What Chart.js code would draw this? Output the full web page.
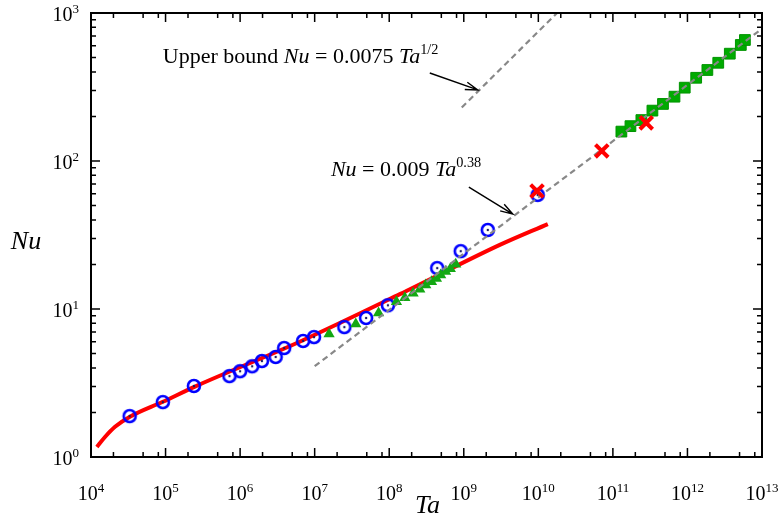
<!DOCTYPE html>
<html>
<head>
<meta charset="utf-8">
<script src="https://cdn.jsdelivr.net/npm/chart.js@4.4.0/dist/chart.umd.min.js"></script>
<style>
  body { margin: 0; background: #fff; }
  #contenedor { width: 778px; height: 521px; }
</style>
</head>
<body>
<div id="contenedor"><canvas id="grafica"></canvas></div>
<script>
// Datos (Ta, Nu)
const circulosTa = [3.3e4, 9.2e4, 2.4e5, 7.2e5, 1.0e6, 1.45e6, 1.96e6, 3.0e6, 3.9e6, 7.0e6, 9.8e6, 2.5e7, 4.9e7, 9.6e7, 4.4e8, 9.1e8, 2.1e9, 9.8e9];
const circulosNu = [1.89, 2.35, 3.02, 3.52, 3.8, 4.1, 4.45, 4.74, 5.45, 6.08, 6.46, 7.55, 8.7, 10.6, 18.9, 24.6, 34.2, 59];

const triangulosTa = [1.56e7, 3.56e7, 7.2e7, 1.25e8, 1.62e8, 2.09e8, 2.57e8, 3.09e8, 3.69e8, 4.3e8, 4.9e8, 5.7e8, 6.6e8, 7.8e8];
const triangulosNu = [6.78, 7.92, 9.4, 11.2, 11.9, 12.8, 13.6, 14.5, 15.3, 16.1, 17.0, 17.9, 18.7, 20.1];

const cuadradosTa = [1.30e11, 1.72e11, 2.41e11, 3.39e11, 4.7e11, 6.7e11, 9.2e11, 1.31e12, 1.85e12, 2.59e12, 3.7e12, 5.2e12, 5.9e12];
const cuadradosNu = [158, 172, 189, 219, 243, 272, 313, 365, 412, 461, 531, 608, 657];

const crucesTa = [9.6e9, 7.1e10, 2.8e11];
const crucesNu = [62.7, 117, 181];

const curvaTa = [1.2e4, 1.54e4, 2.1e4, 3.33e4, 9.2e4, 2.48e5, 6.3e6, 1.39e8, 3.04e9, 1.34e10];
const curvaNu = [1.17, 1.365, 1.6, 1.87, 2.36, 2.99, 6.01, 12.6, 27.1, 37.5];

// Ajuste Nu = 0.009 Ta^0.38 y cota superior Nu = 0.0075 Ta^1/2
const ajusteTa = [1e7, 1e13];
const ajusteNu = [4.11, 784];
const cotaTa = [9.4e8, 1.78e10];
const cotaNu = [230, 1000];

const exponentesX = [4, 5, 6, 7, 8, 9, 10, 11, 12, 13];
const exponentesY = [0, 1, 2, 3];

const puntos = (xs, ys) => xs.map((x, i) => ({ x: x, y: ys[i] }));

// Circulo azul con punto central
function marcaCirculo() {
  const c = document.createElement('canvas');
  c.width = 18; c.height = 18;
  const g = c.getContext('2d');
  g.strokeStyle = '#0000ff';
  g.lineWidth = 2.6;
  g.beginPath(); g.arc(9, 9, 6, 0, Math.PI * 2); g.stroke();
  g.fillStyle = '#1a1a66';
  g.beginPath(); g.arc(9, 9, 1.2, 0, Math.PI * 2); g.fill();
  return c;
}

const serif = '"Liberation Serif", "Times New Roman", serif';

// Texto con cursiva y superindice
function textoRico(ctx, partes, x, y, tam) {
  let px = x;
  partes.forEach(p => {
    const t = p.sup ? tam * 0.65 : tam;
    ctx.font = (p.it ? 'italic ' : '') + t + 'px ' + serif;
    ctx.fillText(p.t, px, p.sup ? y - tam * 0.42 : y);
    px += ctx.measureText(p.t).width;
  });
}

function anchoRico(ctx, partes, tam) {
  let w = 0;
  partes.forEach(p => {
    const t = p.sup ? tam * 0.65 : tam;
    ctx.font = (p.it ? 'italic ' : '') + t + 'px ' + serif;
    w += ctx.measureText(p.t).width;
  });
  return w;
}

function flecha(ctx, x1, y1, x2, y2) {
  const ang = Math.atan2(y2 - y1, x2 - x1);
  const L = 13;
  ctx.beginPath();
  ctx.moveTo(x1, y1); ctx.lineTo(x2, y2);
  ctx.moveTo(x2 - L * Math.cos(ang - 0.3), y2 - L * Math.sin(ang - 0.3));
  ctx.lineTo(x2, y2);
  ctx.lineTo(x2 - L * Math.cos(ang + 0.3), y2 - L * Math.sin(ang + 0.3));
  ctx.stroke();
}

const ejes = {
  id: 'ejes',
  afterDatasetsDraw(chart) {
    const ctx = chart.ctx;
    const a = chart.chartArea;
    const sx = chart.scales.x, sy = chart.scales.y;
    ctx.save();
    ctx.strokeStyle = '#000';
    ctx.fillStyle = '#000';

    // marcas hacia dentro en los cuatro lados
    ctx.lineWidth = 1.5;
    ctx.beginPath();
    exponentesX.forEach(e => {
      const px = sx.getPixelForValue(Math.pow(10, e));
      ctx.moveTo(px, a.bottom); ctx.lineTo(px, a.bottom - 9);
      ctx.moveTo(px, a.top); ctx.lineTo(px, a.top + 9);
      if (e < 13) {
        [2, 5, 8].forEach(m => {
          const q = sx.getPixelForValue(m * Math.pow(10, e));
          ctx.moveTo(q, a.bottom); ctx.lineTo(q, a.bottom - 5);
          ctx.moveTo(q, a.top); ctx.lineTo(q, a.top + 5);
        });
      }
    });
    exponentesY.forEach(e => {
      const py = sy.getPixelForValue(Math.pow(10, e));
      ctx.moveTo(a.left, py); ctx.lineTo(a.left + 9, py);
      ctx.moveTo(a.right, py); ctx.lineTo(a.right - 9, py);
      if (e < 3) {
        for (let m = 2; m <= 9; m++) {
          const q = sy.getPixelForValue(m * Math.pow(10, e));
          ctx.moveTo(a.left, q); ctx.lineTo(a.left + 5, q);
          ctx.moveTo(a.right, q); ctx.lineTo(a.right - 5, q);
        }
      }
    });
    ctx.stroke();

    ctx.lineWidth = 2;
    ctx.strokeRect(a.left, a.top, a.right - a.left, a.bottom - a.top);

    // etiquetas 10^n
    ctx.textAlign = 'left';
    ctx.textBaseline = 'alphabetic';
    exponentesX.forEach(e => {
      const partes = [{ t: '10' }, { t: String(e), sup: true }];
      const w = anchoRico(ctx, partes, 20);
      const px = sx.getPixelForValue(Math.pow(10, e));
      textoRico(ctx, partes, px - w / 2, a.bottom + 43, 20);
    });
    exponentesY.forEach(e => {
      const partes = [{ t: '10' }, { t: String(e), sup: true }];
      const w = anchoRico(ctx, partes, 20);
      const py = sy.getPixelForValue(Math.pow(10, e));
      textoRico(ctx, partes, a.left - 12 - w, py + 8, 20);
    });

    // titulos de ejes
    ctx.font = 'italic 26px ' + serif;
    ctx.textAlign = 'center';
    ctx.fillText('Ta', (a.left + a.right) / 2 + 1, 513);
    ctx.fillText('Nu', 26, 249);
    ctx.textAlign = 'left';

    // anotaciones
    textoRico(ctx, [{ t: 'Upper bound ' }, { t: 'Nu', it: true }, { t: ' = 0.0075 ' }, { t: 'Ta', it: true }, { t: '1/2', sup: true }],
      sx.getPixelForValue(9.2e4), sy.getPixelForValue(459), 22);
    textoRico(ctx, [{ t: 'Nu', it: true }, { t: ' = 0.009 ' }, { t: 'Ta', it: true }, { t: '0.38', sup: true }],
      sx.getPixelForValue(1.65e7), sy.getPixelForValue(79.2), 22);

    ctx.lineWidth = 1.4;
    flecha(ctx, sx.getPixelForValue(3.5e8), sy.getPixelForValue(393), sx.getPixelForValue(1.54e9), sy.getPixelForValue(302));
    flecha(ctx, sx.getPixelForValue(1.17e9), sy.getPixelForValue(66.7), sx.getPixelForValue(4.54e9), sy.getPixelForValue(43.8));
    ctx.restore();
  }
};

const config = {
  type: 'scatter',
  data: {
    datasets: [
      {
        label: 'curva',
        data: puntos(curvaTa, curvaNu),
        showLine: true,
        borderColor: '#ff0000',
        borderWidth: 4,
        pointRadius: 0,
        cubicInterpolationMode: 'monotone',
        order: 6
      },
      {
        label: 'circulos',
        data: puntos(circulosTa, circulosNu),
        pointStyle: marcaCirculo(),
        order: 5
      },
      {
        label: 'triangulos',
        data: puntos(triangulosTa, triangulosNu),
        pointStyle: 'triangle',
        pointRadius: 6.5,
        backgroundColor: '#13a813',
        borderWidth: 0,
        order: 4
      },
      {
        label: 'cuadrados',
        data: puntos(cuadradosTa, cuadradosNu),
        pointStyle: 'rect',
        pointRadius: 7.6,
        backgroundColor: '#00aa00',
        borderColor: '#009400',
        borderWidth: 1,
        order: 3
      },
      {
        label: 'ajuste',
        data: puntos(ajusteTa, ajusteNu),
        showLine: true,
        borderColor: '#888888',
        borderWidth: 2.2,
        borderDash: [6, 4],
        pointRadius: 0,
        order: 2
      },
      {
        label: 'cota',
        data: puntos(cotaTa, cotaNu),
        showLine: true,
        borderColor: '#888888',
        borderWidth: 2.2,
        borderDash: [6, 4],
        pointRadius: 0,
        order: 2
      },
      {
        label: 'cruces',
        data: puntos(crucesTa, crucesNu),
        pointStyle: 'crossRot',
        pointRadius: 9,
        borderColor: '#ff0000',
        borderWidth: 4,
        order: 1
      }
    ]
  },
  options: {
    responsive: true,
    maintainAspectRatio: false,
    animation: false,
    layout: { padding: { left: 91, right: 16, top: 13, bottom: 64 } },
    plugins: { legend: { display: false }, tooltip: { enabled: false } },
    scales: {
      x: { type: 'logarithmic', min: 1e4, max: 1e13, display: false },
      y: { type: 'logarithmic', min: 1, max: 1000, display: false }
    }
  },
  plugins: [ejes]
};

new Chart(document.getElementById('grafica'), config);
</script>
</body>
</html>
